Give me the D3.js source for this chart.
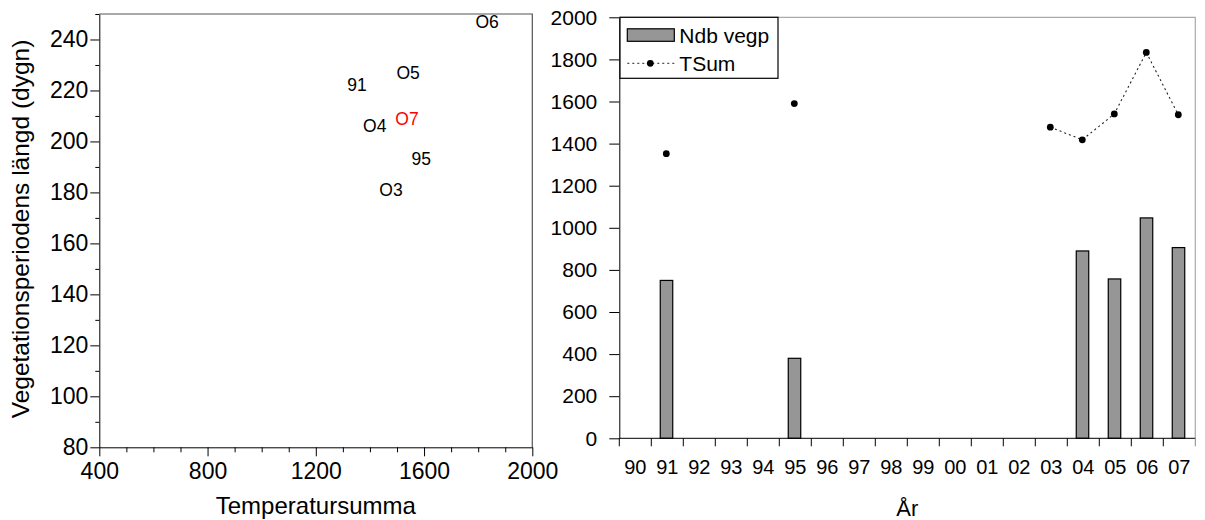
<!DOCTYPE html>
<html>
<head>
<meta charset="utf-8">
<script src="https://d3js.org/d3.v7.min.js"></script>
<style>
  body { margin: 0; background: #fff; }
  svg text { font-family: "Liberation Sans", Arial, sans-serif; fill: #000; }
</style>
</head>
<body>
<div id="chart"></div>
<script>
// years on the right chart, two-digit labels
var years = ["90","91","92","93","94","95","96","97","98","99","00","01","02","03","04","05","06","07"];
// Ndb vegp (bars), null = no value
var ndbVegp = [null, 750, null, null, null, 380, null, null, null, null, null, null, null, null, 890, 757, 1047, 906];
// TSum (temperature sum), null = no value
var tSum = [null, 1352, null, null, null, 1590, null, null, null, null, null, null, null, 1478, 1418, 1541, 1833, 1537];
// vegetation period length (days) for the scatter, same years as tSum
var vegLength = [null, 222, null, null, null, 193, null, null, null, null, null, null, null, 181, 206, 227, 247, 209];
// point labels used in the scatter
var pointLabels = {"91": "91", "95": "95", "03": "O3", "04": "O4", "05": "O5", "06": "O6", "07": "O7"};

var leftXTicks = [400, 800, 1200, 1600, 2000];
var leftYTicks = [80, 100, 120, 140, 160, 180, 200, 220, 240];
var rightYTicks = d3.range(0, 2001, 200);

var W = 1205, H = 520;
var svg = d3.select("#chart").append("svg")
    .attr("width", W).attr("height", H);

var fmt = d3.format("d");

// ---------------- left: scatter ----------------
var L = { left: 99.3, right: 532.3, top: 14, bottom: 447.3 };
var x1 = d3.scaleLinear().domain([400, 2000]).range([L.left, L.right]);
var y1 = d3.scaleLinear().domain([80, 250]).range([L.bottom, L.top]);

var gl = svg.append("g");

// frame top / right
gl.append("path")
    .attr("d", "M" + L.left + "," + L.top + "H" + L.right + "V" + L.bottom)
    .attr("fill", "none").attr("stroke", "#555").attr("stroke-width", 1.2);

// minor ticks
gl.append("g")
    .attr("transform", "translate(0," + L.bottom + ")")
    .call(d3.axisBottom(x1).tickValues(d3.range(500, 2000, 100).filter(function (d) { return d % 400 != 0; })).tickSize(5).tickFormat(""))
    .call(function (g) { g.select(".domain").remove(); });
gl.append("g")
    .attr("transform", "translate(" + L.left + ",0)")
    .call(d3.axisLeft(y1).tickValues(d3.range(90, 251, 20)).tickSize(4).tickFormat(""))
    .call(function (g) { g.select(".domain").remove(); });

// main axes
var xa1 = gl.append("g")
    .attr("transform", "translate(0," + L.bottom + ")")
    .call(d3.axisBottom(x1).tickValues(leftXTicks).tickFormat(fmt).tickSize(9).tickPadding(2).tickSizeOuter(0));
var ya1 = gl.append("g")
    .attr("transform", "translate(" + L.left + ",0)")
    .call(d3.axisLeft(y1).tickValues(leftYTicks).tickFormat(fmt).tickSize(9).tickPadding(2).tickSizeOuter(0));
[xa1, ya1].forEach(function (a) {
    a.selectAll("text").style("font-size", "23px").attr("fill", "#000");
    a.selectAll("line, path").attr("stroke", "#000");
});
xa1.selectAll("text").attr("dy", "0.9em");

gl.append("text")
    .attr("x", (L.left + L.right) / 2).attr("y", 514)
    .attr("text-anchor", "middle").style("font-size", "24px")
    .text("Temperatursumma");
gl.append("text")
    .attr("transform", "translate(29,229) rotate(-90)")
    .attr("text-anchor", "middle").style("font-size", "24.5px")
    .text("Vegetationsperiodens längd (dygn)");

// point labels
var scatterData = years.map(function (yr, i) {
    return { year: yr, t: tSum[i], v: vegLength[i] };
}).filter(function (d) { return d.t != null && d.v != null; });

gl.selectAll(".lbl").data(scatterData).enter().append("text")
    .attr("class", "lbl")
    .attr("x", function (d) { return x1(d.t); })
    .attr("y", function (d) { return y1(d.v); })
    .attr("text-anchor", "middle")
    .attr("dominant-baseline", "central")
    .style("font-size", "17.5px")
    .style("fill", function (d) { return d.year == "07" ? "#ff0000" : "#000"; })
    .text(function (d) { return pointLabels[d.year]; });

// ---------------- right: bars + line ----------------
var R = { left: 619.3, right: 1195.3, top: 17.3, bottom: 438.3 };
var x2 = d3.scaleBand().domain(years).range([R.left, R.right]);
var y2 = d3.scaleLinear().domain([0, 2000]).range([R.bottom, R.top]);
var gr = svg.append("g");

gr.append("path")
    .attr("d", "M" + R.left + "," + R.top + "H" + R.right + "V" + R.bottom)
    .attr("fill", "none").attr("stroke", "#aaa").attr("stroke-width", 1.2);

var barW = x2.bandwidth() * 0.39;
var barData = years.map(function (yr, i) { return { year: yr, v: ndbVegp[i] }; })
    .filter(function (d) { return d.v != null; });
gr.selectAll(".bar").data(barData).enter().append("rect")
    .attr("class", "bar")
    .attr("x", function (d) { return x2(d.year) + x2.bandwidth() / 2 - barW / 2 - 0.8; })
    .attr("y", function (d) { return y2(d.v); })
    .attr("width", barW)
    .attr("height", function (d) { return y2(0) - y2(d.v); })
    .attr("fill", "#969696").attr("stroke", "#000").attr("stroke-width", 1.2);

// x axis: ticks on band edges, labels centered
var xa2 = gr.append("g").attr("transform", "translate(0," + R.bottom + ")");
xa2.append("line").attr("x1", R.left).attr("x2", R.right).attr("stroke", "#000");
xa2.selectAll(".tk").data(years.concat(["end"])).enter().append("line")
    .attr("x1", function (d, i) { return i < years.length ? x2(d) : R.right; })
    .attr("x2", function (d, i) { return i < years.length ? x2(d) : R.right; })
    .attr("y1", 0).attr("y2", 8)
    .attr("stroke", function (d, i) { return i == years.length ? "#888" : "#000"; });
xa2.selectAll(".tl").data(years).enter().append("text")
    .attr("x", function (d) { return x2(d) + x2.bandwidth() / 2; })
    .attr("y", 29)
    .attr("text-anchor", "middle")
    .attr("dominant-baseline", "central")
    .style("font-size", "20px")
    .text(function (d) { return d; });

var ya2 = gr.append("g")
    .attr("transform", "translate(" + R.left + ",0)")
    .call(d3.axisLeft(y2).tickValues(rightYTicks).tickFormat(fmt).tickSize(10).tickPadding(12).tickSizeOuter(0));
ya2.selectAll("text").style("font-size", "21px").attr("fill", "#000");
ya2.selectAll("line, path").attr("stroke", "#000");

gr.append("text")
    .attr("x", (R.left + R.right) / 2).attr("y", 516)
    .attr("text-anchor", "middle").style("font-size", "22px")
    .text("År");

// TSum dotted line + dots
var lineData = years.map(function (yr, i) { return { year: yr, v: tSum[i] }; });
var line = d3.line()
    .defined(function (d) { return d.v != null; })
    .x(function (d) { return x2(d.year) + x2.bandwidth() / 2 - 1; })
    .y(function (d) { return y2(d.v); });
gr.append("path").datum(lineData)
    .attr("d", line)
    .attr("fill", "none").attr("stroke", "#222").attr("stroke-width", 1.1)
    .attr("stroke-dasharray", "2,3");
gr.selectAll(".dot").data(lineData.filter(function (d) { return d.v != null; })).enter().append("circle")
    .attr("cx", function (d) { return x2(d.year) + x2.bandwidth() / 2 - 1; })
    .attr("cy", function (d) { return y2(d.v); })
    .attr("r", 3.4).attr("fill", "#000");

// legend
var lg = gr.append("g").attr("transform", "translate(" + R.left + "," + R.top + ")");
lg.append("rect").attr("x", 0.7).attr("y", 0).attr("width", 158).attr("height", 61)
    .attr("fill", "#fff").attr("stroke", "#000").attr("stroke-width", 1.2);
lg.append("rect").attr("x", 8).attr("y", 11.5).attr("width", 47).attr("height", 12.5)
    .attr("fill", "#969696").attr("stroke", "#000").attr("stroke-width", 1.2);
lg.append("text").attr("x", 60).attr("y", 18).attr("dominant-baseline", "central")
    .style("font-size", "21px").text("Ndb vegp");
lg.append("line").attr("x1", 8).attr("x2", 58).attr("y1", 46).attr("y2", 46)
    .attr("stroke", "#222").attr("stroke-dasharray", "2,3");
lg.append("circle").attr("cx", 31).attr("cy", 46).attr("r", 3.4).attr("fill", "#000");
lg.append("text").attr("x", 60).attr("y", 46).attr("dominant-baseline", "central")
    .style("font-size", "21px").text("TSum");
</script>
</body>
</html>
